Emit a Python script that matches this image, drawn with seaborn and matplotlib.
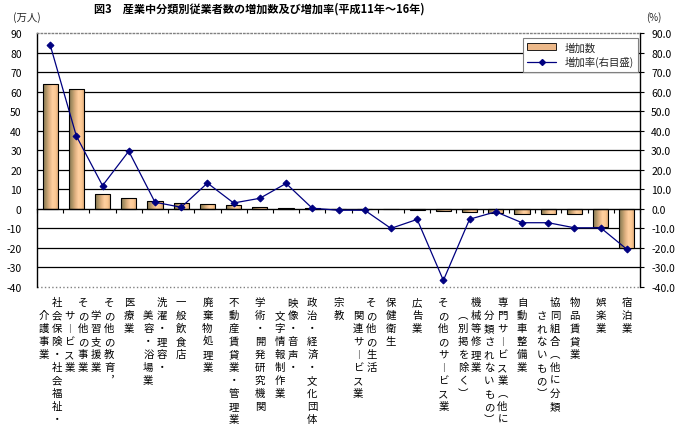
import numpy as np
import pandas as pd
import seaborn as sns
import matplotlib
matplotlib.use("Agg")
import matplotlib.pyplot as plt
from matplotlib.patches import Patch
from matplotlib.lines import Line2D
from matplotlib import transforms
from matplotlib.colors import LinearSegmentedColormap

# ---------------- data ----------------
label_columns = [
    ["社会保険・社会福祉・", "介護事業"],
    ["その他の事業", "サービス業"],
    ["その他の教育，", "学習支援業"],
    ["医療業"],
    ["洗濯・理容・", "美容・浴場業"],
    ["一般飲食店"],
    ["廃棄物処理業"],
    ["不動産賃貸業・管理業"],
    ["学術・開発研究機関"],
    ["映像・音声・", "文字情報制作業"],
    ["政治・経済・文化団体"],
    ["宗教"],
    ["その他の生活", "関連サービス業"],
    ["保健衛生"],
    ["広告業"],
    ["その他のサービス業"],
    ["機械等修理業", "（別掲を除く）"],
    ["専門サービス業（他に", "分類されないもの）"],
    ["自動車整備業"],
    ["協同組合（他に分類", "されないもの）"],
    ["物品賃貸業"],
    ["娯楽業"],
    ["宿泊業"],
]
categories = ["".join(c) for c in label_columns]
increase = [63.9, 61.4, 7.6, 5.4, 3.9, 3.0, 2.4, 1.9, 0.9, 0.3, 0.2, -0.3, -0.3,
            -0.1, -0.4, -1.0, -1.5, -2.0, -2.5, -2.5, -2.5, -9.3, -20.2]
rate = [84.0, 37.3, 11.9, 29.5, 3.4, 0.8, 13.2, 3.0, 5.4, 13.0, 0.3, -0.7, -0.7,
        -10.0, -5.4, -36.6, -5.3, -1.5, -7.1, -7.1, -9.7, -9.7, -20.7]
left_ticks = list(range(-40, 91, 10))
title = "図3　産業中分類別従業者数の増加数及び増加率(平成11年～16年)"
legend_labels = ["増加数", "増加率(右目盛)"]

# ---------------- style ----------------
sns.set_theme(style="white")
plt.rcParams["font.family"] = ["Noto Sans CJK JP", "DejaVu Sans"]
plt.rcParams["axes.unicode_minus"] = False

W, H = 680, 435
fig = plt.figure(figsize=(W / 100, H / 100), dpi=100)
fig.patch.set_facecolor("white")
ax = fig.add_axes([37 / W, 1 - 288 / H, (640 - 37) / W, (288 - 34) / H])
n = len(categories)

df = pd.DataFrame({"category": categories, "increase": increase, "rate": rate})

sns.barplot(data=df, x="category", y="increase", ax=ax, color="#EDB98A",
            edgecolor="black", linewidth=0.8, width=0.58, saturation=1, zorder=2)

# gradient fill for bars
cmap = LinearSegmentedColormap.from_list(
    "barg", ["#857650", "#ae9466", "#e2b282", "#ffd0a0", "#fcc892", "#d4a070"])
grad = np.linspace(0, 1, 64).reshape(1, -1)
for p in list(ax.patches):
    x0, y0 = p.get_x(), p.get_y()
    w, h = p.get_width(), p.get_height()
    if abs(h) < 1e-9:
        continue
    im = ax.imshow(grad, extent=[x0, x0 + w, y0, y0 + h], aspect="auto",
                   cmap=cmap, zorder=1.9, interpolation="bilinear")
    im.set_clip_path(p)
    p.set_facecolor("none")
    p.set_zorder(2)

ax.set_xlim(-0.5, n - 0.5)
ax.set_ylim(-40, 90)
ax.set_yticks(left_ticks)
ax.set_yticklabels([str(v) for v in left_ticks], fontsize=7.5)
ax.set_xlabel("")
ax.set_ylabel("")
ax.set_xticks(np.arange(-0.5, n, 1.0))
ax.set_xticklabels([])
ax.tick_params(axis="x", direction="out", length=3, width=0.8, color="black", bottom=True)
ax.tick_params(axis="y", length=0, pad=11, labelcolor="black", left=True)

for v in left_ticks[1:-1]:
    if v != 0:
        ax.axhline(v, color="black", lw=0.9, zorder=0.5)

ax.spines["bottom"].set_position(("data", 0))
ax.spines["bottom"].set_color("black")
ax.spines["bottom"].set_linewidth(1.0)
ax.spines["left"].set_color("black")
ax.spines["left"].set_linewidth(1.0)
ax.spines["right"].set_visible(False)
ax.spines["top"].set_color("#808080")
ax.spines["top"].set_linestyle(":")
ax.spines["top"].set_linewidth(1.0)
ax.plot([0, 1], [0, 0], transform=ax.transAxes, ls=":", color="#808080",
        lw=1.0, clip_on=False)

# line on secondary axis
ax2 = ax.twinx()
sns.lineplot(x=np.arange(n), y=rate, ax=ax2, color="#000080", marker="D",
             markersize=3.5, linewidth=0.9, markeredgecolor="#000080", zorder=5)
ax2.set_ylim(-40, 90)
ax2.set_xlim(-0.5, n - 0.5)
ax2.set_yticks(left_ticks)
ax2.set_yticklabels([f"{v:.1f}" for v in left_ticks], fontsize=7.5)
ax2.set_ylabel("")
ax2.tick_params(axis="y", right=True, length=3, width=0.8, pad=5, color="black",
                labelcolor="black")
for s in ["top", "bottom", "left"]:
    ax2.spines[s].set_visible(False)
ax2.spines["right"].set_color("black")
ax2.spines["right"].set_linewidth(1.0)

# vertical category labels
vert_map = {"（": "︵", "）": "︶", "ー": "︱", "，": "︐"}
trans = transforms.blended_transform_factory(ax.transData, fig.transFigure)
for i, cols in enumerate(label_columns):
    for j, col in enumerate(cols):
        if len(cols) == 1:
            dx = 0
        else:
            dx = 6.7 if j == 0 else -6.7
        t = transforms.offset_copy(trans, fig=fig, x=dx, y=0, units="dots")
        for k, ch in enumerate(col):
            row = k + j
            y = 1 - (303 + 13 * row) / H
            fig.text(i, y, vert_map.get(ch, ch), transform=t, ha="center",
                     va="center", fontsize=7.5, color="black")

# titles / units
fig.text(259 / W, 1 - 9 / H, title, ha="center", va="center", fontsize=8,
         fontweight="bold", color="black")
fig.text(27 / W, 1 - 18 / H, "(万人)", ha="center", va="center", fontsize=7.5)
fig.text(654 / W, 1 - 18 / H, "(%)", ha="center", va="center", fontsize=7)

# legend
handles = [Patch(facecolor="#EDB98A", edgecolor="black", linewidth=0.6),
           Line2D([], [], color="#000080", marker="D", markersize=3, lw=0.9)]
leg = fig.legend(handles, legend_labels, loc="upper right",
                 bbox_to_anchor=(638 / W, 1 - 39 / H), bbox_transform=fig.transFigure,
                 fontsize=7.5, frameon=True, fancybox=False, edgecolor="#808080",
                 framealpha=1, facecolor="white", borderpad=0.4, handlelength=2.8,
                 handleheight=0.7, labelspacing=0.35, borderaxespad=0)
leg.get_frame().set_linewidth(0.8)

fig.savefig("out.png", dpi=100)
